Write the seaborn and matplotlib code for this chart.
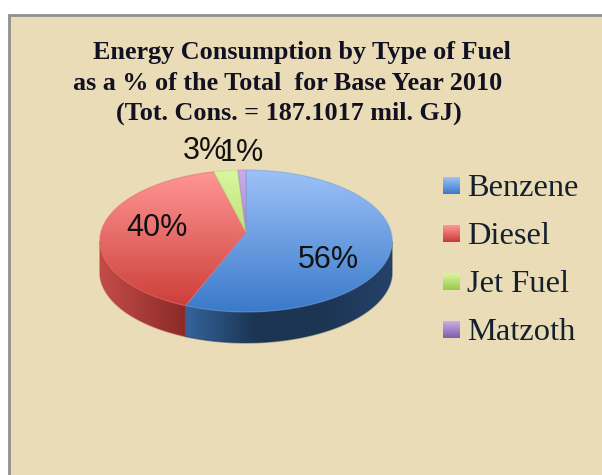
import numpy as np
import matplotlib
matplotlib.use("Agg")
import matplotlib.pyplot as plt
import seaborn as sns
from matplotlib.patches import Polygon, Rectangle

categories = ["Benzene", "Diesel", "Jet Fuel", "Matzoth"]
shares = [56, 40, 3, 1]
pct_labels = ["56%", "40%", "3%", "1%"]
title_lines = ["Energy Consumption by Type of Fuel",
               "as a % of the Total  for Base Year 2010",
               "(Tot. Cons. = 187.1017 mil. GJ)"]

top_colors = [("#9dc1f7", "#3a7aca"), ("#ff9796", "#cb3b35"),
              ("#d9f79f", "#9bc94a"), ("#c9aee8", "#7f5fa8")]
side_colors = [("#33659e", "#1c3553", "#1c3553", "#26426a"), ("#c44c48", "#8a2a28"),
               ("#7f9c3c", "#7f9c3c"), ("#5f4a80", "#5f4a80")]

sns.set_theme(style="white")
BG = "#e9dcb6"
# apex of the pie, radii, tilt of the perspective and wall height
CX, CY, RX, RY, K, DEPTH = 246, 232, 145, 69.8, 0.127, 31


def rim(theta):
    # theta in radians, clockwise from 12 o'clock, y axis points down
    front = -np.cos(theta)
    s = 1 / (1 - K * front)
    return CX + RX * np.sin(theta) * s, CY + RY * front * s


def fill_gradient(ax, verts, cmap, extent, horizontal=False, zorder=3):
    grad = np.linspace(0, 1, 256)
    grad = grad.reshape(1, -1) if horizontal else grad.reshape(-1, 1)
    poly = Polygon(verts, closed=True, fc="none", ec="none", transform=ax.transData)
    ax.add_patch(poly)
    im = ax.imshow(grad, cmap=cmap, extent=extent, aspect="auto", zorder=zorder)
    im.set_clip_path(poly)
    # soft edge to hide the clip stair steps
    ax.add_patch(Polygon(verts, closed=True, fc="none", ec=cmap(0.5), lw=1.0, alpha=0.45, zorder=zorder))


fig = plt.figure(figsize=(6.02, 4.75), dpi=100, facecolor="white")
ax = fig.add_axes([0, 0, 1, 1])
ax.set_xlim(0, 602)
ax.set_ylim(475, 0)
ax.axis("off")

ax.add_patch(Rectangle((9, 15), 620, 500, fc=BG, ec="#8f8f8f", lw=2, zorder=1))

edges = np.radians(np.cumsum([0] + shares) / sum(shares) * 360)
wall_from = np.arccos(-K)
wall_to = 2 * np.pi - wall_from

# side wall, only the front of the rim shows
for i in range(len(shares)):
    a, b = max(edges[i], wall_from), min(edges[i + 1], wall_to)
    if b <= a:
        continue
    t = np.linspace(a, b, 120)
    x, y = rim(t)
    verts = np.r_[np.c_[x, y], np.c_[x, y + DEPTH][::-1]]
    cmap = sns.blend_palette(side_colors[i], as_cmap=True)
    fill_gradient(ax, verts, cmap, (x.min(), x.max(), 360, 160), horizontal=True)

# top face
xr, yr = rim(np.linspace(0, 2 * np.pi, 400))
for i in range(len(shares)):
    t = np.linspace(edges[i], edges[i + 1], 200)
    x, y = rim(t)
    verts = np.r_[[[CX, CY]], np.c_[x, y]]
    cmap = sns.blend_palette(top_colors[i], as_cmap=True)
    fill_gradient(ax, verts, cmap, (xr.min(), xr.max(), yr.max(), yr.min()), zorder=4)

# percent labels
label_xy = [(328, 260), (157, 228), (205, 151), (242, 153)]
for txt, (lx, ly) in zip(pct_labels, label_xy):
    ax.text(lx, ly, txt, family="Liberation Sans", fontsize=22, color="#111111",
            ha="center", va="center", zorder=6)

# title
title_xy = [(302, 53), (288, 83), (289, 113)]
for txt, (tx, ty) in zip(title_lines, title_xy):
    ax.text(tx, ty, txt, family="Liberation Serif", fontweight="bold", fontsize=18.8,
            color="#111122", ha="center", va="center", zorder=6)

# legend
for i, name in enumerate(categories):
    yc = 186 + i * 48
    cmap = sns.blend_palette(top_colors[i], as_cmap=True)
    ax.imshow(np.linspace(0, 1, 32).reshape(-1, 1), cmap=cmap, aspect="auto",
              extent=(443, 460, yc + 8.5, yc - 8.5), zorder=5)
    ax.text(467, yc + 3, name, family="Liberation Serif", fontsize=23.4, color="#15202e",
            ha="left", va="center", zorder=6)

ax.set_xlim(0, 602)
ax.set_ylim(475, 0)
fig.savefig("out.png", dpi=100, facecolor="white")
